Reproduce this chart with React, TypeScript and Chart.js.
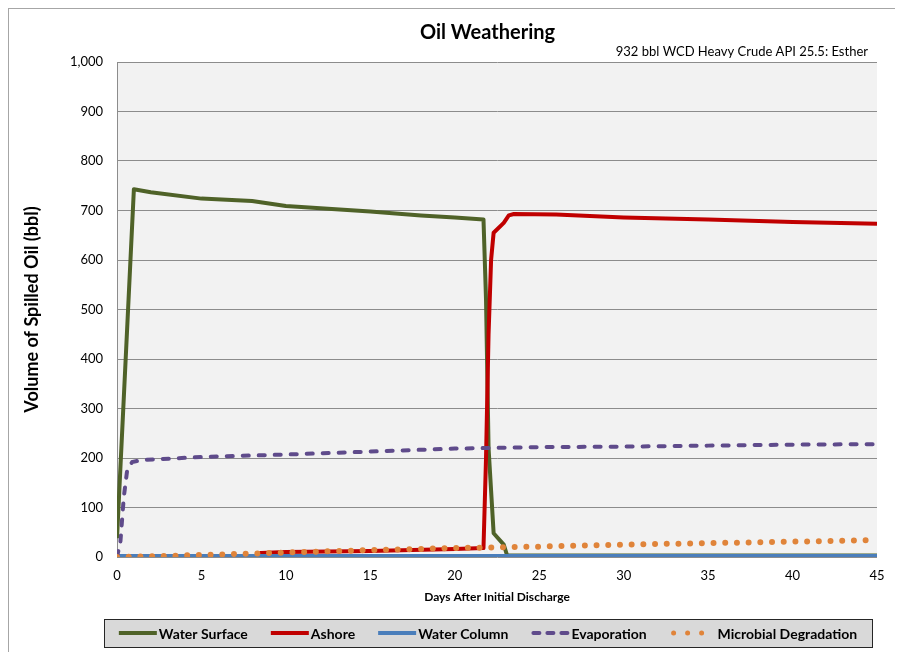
import React, { useEffect, useRef } from "react";
import { Chart, registerables } from "chart.js";
Chart.register(...registerables);

const TITLE = "Oil Weathering";
const SUBTITLE = "932 bbl WCD Heavy Crude API 25.5: Esther";
const X_TITLE = "Days After Initial Discharge";
const Y_TITLE = "Volume of Spilled Oil (bbl)";
const SERIES_NAMES = ["Water Surface", "Ashore", "Water Column", "Evaporation", "Microbial Degradation"];
const SERIES_COLORS = ["#4f6228", "#c00000", "#4a7ebb", "#5f4b8b", "#e0843a"];

const surfaceDays = [0, 1, 2, 5, 8, 10, 15, 18, 20, 21.7, 21.85, 22.0, 22.3, 22.9, 23.1, 45];
const surfaceVol = [38, 743, 737, 724, 719, 709, 698, 690, 686, 682, 520, 220, 48, 25, 3, 3];
const ashoreDays = [0, 8.3, 8.5, 10, 15, 20, 21.7, 21.85, 22.0, 22.15, 22.3, 22.9, 23.2, 23.5, 26, 30, 35, 40, 45];
const ashoreVol = [0, 0, 8, 10, 12, 16, 18, 200, 450, 600, 655, 675, 690, 693, 692, 686, 682, 677, 673];
const columnDays = [0, 45];
const columnVol = [2, 2];
const evapDays = [0, 0.2, 0.4, 0.6, 0.9, 1.5, 5, 10, 15, 20, 25, 30, 35, 40, 45];
const evapVol = [0, 30, 120, 175, 192, 196, 202, 207, 213, 219, 222, 223, 225, 227, 228];
const microbeDays = [0, 5, 10, 15, 20, 25, 30, 35, 40, 45];
const microbeVol = [0, 4, 9, 14, 18, 21, 25, 28, 31, 34];

const X_MIN = 0, X_MAX = 45, X_STEP = 5;
const Y_MIN = 0, Y_MAX = 1000, Y_STEP = 100;

const FONT = "Lato, 'Open Sans', sans-serif";

const pts = (xs: number[], ys: number[]) => xs.map((x, i) => ({ x, y: ys[i] }));

const decorPlugin = {
  id: "decor",
  beforeDraw(chart: any) {
    const { ctx, chartArea } = chart;
    ctx.save();
    ctx.fillStyle = "#f2f2f2";
    ctx.fillRect(chartArea.left, chartArea.top, chartArea.right - chartArea.left, chartArea.bottom - chartArea.top);
    ctx.restore();
  },
  afterDraw(chart: any) {
    const { ctx, chartArea } = chart;
    ctx.save();
    ctx.fillStyle = "#000";
    ctx.textBaseline = "middle";
    ctx.textAlign = "center";
    ctx.font = `bold 20px ${FONT}`;
    ctx.fillText(TITLE, 478.5, 24);
    ctx.textAlign = "right";
    ctx.font = `13px ${FONT}`;
    ctx.fillText(SUBTITLE, chartArea.right - 9, 43);

    const bx = 95, by = 610, bw = 768, bh = 28;
    ctx.fillStyle = "#d9d9d9";
    ctx.fillRect(bx, by, bw, bh);
    ctx.strokeStyle = "#262626";
    ctx.lineWidth = 1;
    ctx.strokeRect(bx + 0.5, by + 0.5, bw, bh);

    ctx.font = `bold 14px ${FONT}`;
    ctx.textAlign = "left";
    const cy = by + bh / 2;
    const sampleW = 38;
    const textGap = [2, 2, 2, 2, 10];
    const itemGap = 23;
    let total = 0;
    SERIES_NAMES.forEach((n, i) => {
      total += sampleW + textGap[i] + ctx.measureText(n).width + (i < SERIES_NAMES.length - 1 ? itemGap : 0);
    });
    let x = bx + (bw - total) / 2;
    SERIES_NAMES.forEach((n, i) => {
      ctx.save();
      ctx.strokeStyle = SERIES_COLORS[i];
      ctx.lineCap = i >= 3 ? "round" : "butt";
      if (i === 3) {
        ctx.lineWidth = 4;
        ctx.setLineDash([6, 8]);
      } else if (i === 4) {
        ctx.lineWidth = 5;
        ctx.setLineDash([0, 14]);
      } else {
        ctx.lineWidth = 4;
      }
      ctx.beginPath();
      if (i === 4) {
        ctx.moveTo(x + 4, cy);
        ctx.lineTo(x + sampleW, cy);
      } else if (i === 3) {
        ctx.moveTo(x + 2, cy);
        ctx.lineTo(x + sampleW, cy);
      } else {
        ctx.moveTo(x, cy);
        ctx.lineTo(x + sampleW, cy);
      }
      ctx.stroke();
      ctx.restore();
      ctx.fillStyle = "#000";
      const tx = x + sampleW + textGap[i];
      ctx.fillText(n, tx, cy + 1);
      x = tx + ctx.measureText(n).width + itemGap;
    });
    ctx.restore();
  },
};

export default function App() {
  const ref = useRef<HTMLCanvasElement | null>(null);
  useEffect(() => {
    if (!ref.current) return;
    const common = { pointRadius: 0, pointHoverRadius: 0, tension: 0, fill: false };
    const chart = new Chart(ref.current, {
      type: "line",
      data: {
        datasets: [
          { ...common, label: SERIES_NAMES[0], data: pts(surfaceDays, surfaceVol), borderColor: SERIES_COLORS[0], borderWidth: 4, order: 5, borderJoinStyle: "round" },
          { ...common, label: SERIES_NAMES[1], data: pts(ashoreDays, ashoreVol), borderColor: SERIES_COLORS[1], borderWidth: 4, order: 4, borderJoinStyle: "round" },
          { ...common, label: SERIES_NAMES[2], data: pts(columnDays, columnVol), borderColor: SERIES_COLORS[2], borderWidth: 4, order: 3 },
          { ...common, label: SERIES_NAMES[3], data: pts(evapDays, evapVol), borderColor: SERIES_COLORS[3], borderWidth: 4, borderDash: [6, 10], borderCapStyle: "round", order: 2 },
          { ...common, label: SERIES_NAMES[4], data: pts(microbeDays, microbeVol), borderColor: SERIES_COLORS[4], borderWidth: 6, borderDash: [0, 11.7], borderCapStyle: "round", order: 1 },
        ] as any,
      },
      options: {
        animation: false,
        responsive: true,
        maintainAspectRatio: false,
        layout: { padding: { left: 0, right: 26, top: 53, bottom: 0 } },
        plugins: {
          legend: { display: false },
          title: { display: false },
          tooltip: { enabled: false },
        },
        scales: {
          x: {
            type: "linear",
            min: X_MIN,
            max: X_MAX,
            ticks: { stepSize: X_STEP, color: "#000", font: { family: FONT, size: 13 }, padding: 11, maxRotation: 0 },
            grid: { display: false, drawTicks: false },
            border: { display: false },
            title: { display: true, text: X_TITLE, color: "#000", font: { family: FONT, size: 12, weight: "bold" }, padding: { top: 0, bottom: 48 } },
            afterFit: (s: any) => { s.height = 95; },
          },
          y: {
            type: "linear",
            min: Y_MIN,
            max: Y_MAX,
            ticks: { stepSize: Y_STEP, color: "#000", font: { family: FONT, size: 13 }, padding: 14 },
            grid: { color: "#8c8c8c", lineWidth: 1, drawTicks: false },
            border: { display: true, color: "#8c8c8c", width: 1 },
            title: { display: true, text: Y_TITLE, color: "#000", font: { family: FONT, size: 18, weight: "bold" }, padding: { top: 12, bottom: 0 } },
            afterFit: (s: any) => { s.width = 108; },
          },
        },
      } as any,
      plugins: [decorPlugin],
    });
    return () => chart.destroy();
  }, []);

  return (
    <div style={{ borderLeft: "1px solid #a6a6a6", borderTop: "1px solid #a6a6a6", marginRight: -8, height: 643, background: "#fff", overflow: "hidden" }}>
      <div style={{ position: "relative", width: 894, height: 643 }}>
        <canvas ref={ref} />
      </div>
    </div>
  );
}
